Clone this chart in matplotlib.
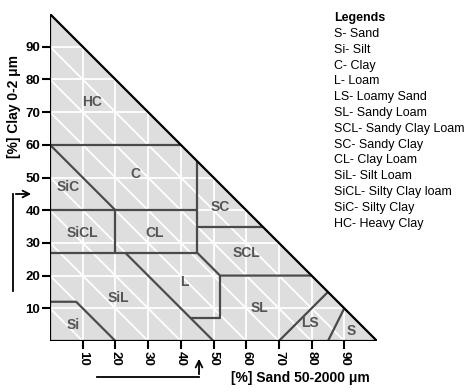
import matplotlib
matplotlib.use("Agg")
import matplotlib.pyplot as plt
from matplotlib.patches import Polygon
import numpy as np

plt.rcParams['font.family'] = ['Liberation Sans', 'DejaVu Sans']

# texture class boundaries, (sand %, clay %) vertices
boundaries = [
    [(0, 60), (40, 60)],
    [(0, 60), (20, 40)],
    [(0, 40), (45, 40)],
    [(45, 27), (45, 55)],
    [(20, 27), (20, 40)],
    [(0, 27), (45, 27)],
    [(45, 35), (65, 35)],
    [(45, 27), (52, 20), (80, 20)],
    [(52, 20), (52, 7), (43, 7)],
    [(23, 27), (50, 0)],
    [(0, 12), (8, 12), (20, 0)],
    [(70, 0), (85, 15)],
    [(85, 0), (90, 10)],
]

class_names = ["HC", "C", "SiC", "SiCL", "CL", "SC", "SCL", "L", "SiL", "Si", "SL", "LS", "S"]
class_sand = [13, 26, 5.5, 10, 32, 52, 60, 41, 21, 7, 64, 79.5, 92]
class_clay = [73, 51, 47, 33, 33, 41, 27, 18, 13, 5, 10, 5.5, 3]

ticks = [10, 20, 30, 40, 50, 60, 70, 80, 90]

legend_items = [
    "S- Sand", "Si- Silt", "C- Clay", "L- Loam", "LS- Loamy Sand",
    "SL- Sandy Loam", "SCL- Sandy Clay Loam", "SC- Sandy Clay",
    "CL- Clay Loam", "SiL- Silt Loam", "SiCL- Silty Clay loam",
    "SiC- Silty Clay", "HC- Heavy Clay",
]

fig = plt.figure(figsize=(4.74, 3.92), dpi=100)
ax = fig.add_axes([50 / 474, 1 - 341 / 392, 327 / 474, 327 / 392])
ax.set_xlim(0, 100)
ax.set_ylim(0, 100)
for s in ax.spines.values():
    s.set_visible(False)

tri = Polygon([(0, 0), (0, 100), (100, 0)], closed=True, facecolor="#dedede",
              edgecolor="none", zorder=1)
ax.add_patch(tri)

# white grid
for v in ticks:
    ax.plot([v, v], [0, 100 - v], color="white", lw=1.3, zorder=2)
    ax.plot([0, 100 - v], [v, v], color="white", lw=1.3, zorder=2)
    ax.plot([0, v], [v, 0], color="white", lw=1.3, zorder=2)

for seg in boundaries:
    xs, ys = zip(*seg)
    ax.plot(xs, ys, color="#4a4a4a", lw=1.6, zorder=3, solid_capstyle="butt")

outline = Polygon([(0, 0), (0, 100), (100, 0)], closed=True, facecolor="none",
                  edgecolor="black", lw=1.6, zorder=4)
ax.add_patch(outline)

for name, sx, cy in zip(class_names, class_sand, class_clay):
    ax.text(sx, cy, name, ha="center", va="center", fontsize=10,
            fontweight="bold", color="#555555", zorder=5)

ax.set_xticks(ticks)
ax.set_yticks(ticks)
ax.set_xticklabels([str(t) for t in ticks], rotation=270, fontweight="bold",
                   fontsize=9.5)
ax.set_yticklabels([str(t) for t in ticks], fontweight="bold", fontsize=9.5)
ax.tick_params(axis="both", length=6, width=1.5, color="black", pad=1)

fig.text(14 / 474, 1 - 107 / 392, "[%] Clay 0-2 \u03bcm", rotation=90,
         ha="center", va="center", fontsize=10, fontweight="bold")
fig.text(300 / 474, 1 - 378 / 392, "[%] Sand 50-2000 \u03bcm",
         ha="center", va="center", fontsize=10, fontweight="bold")

# arrows
arrow_kw = dict(arrowstyle="->", color="black", lw=1.3, mutation_scale=12)
fig.add_artist(plt.Line2D([13 / 474, 13 / 474], [1 - 291 / 392, 1 - 194 / 392],
                          color="black", lw=1.3))
ax.annotate("", xy=(34 / 474, 1 - 194 / 392), xytext=(13 / 474, 1 - 194 / 392),
            xycoords="figure fraction", textcoords="figure fraction",
            arrowprops=arrow_kw, annotation_clip=False)
fig.add_artist(plt.Line2D([97 / 474, 199 / 474], [1 - 377 / 392, 1 - 377 / 392],
                          color="black", lw=1.3))
ax.annotate("", xy=(199 / 474, 1 - 356 / 392), xytext=(199 / 474, 1 - 377 / 392),
            xycoords="figure fraction", textcoords="figure fraction",
            arrowprops=arrow_kw, annotation_clip=False)

# legend text block
fig.text(334 / 474, 1 - 18 / 392, "Legends", ha="left", va="center",
         fontsize=9, fontweight="bold")
for i, item in enumerate(legend_items):
    fig.text(334 / 474, 1 - (34 + i * 15.8) / 392, item, ha="left",
             va="center", fontsize=9)

fig.savefig("out.png", dpi=100)
